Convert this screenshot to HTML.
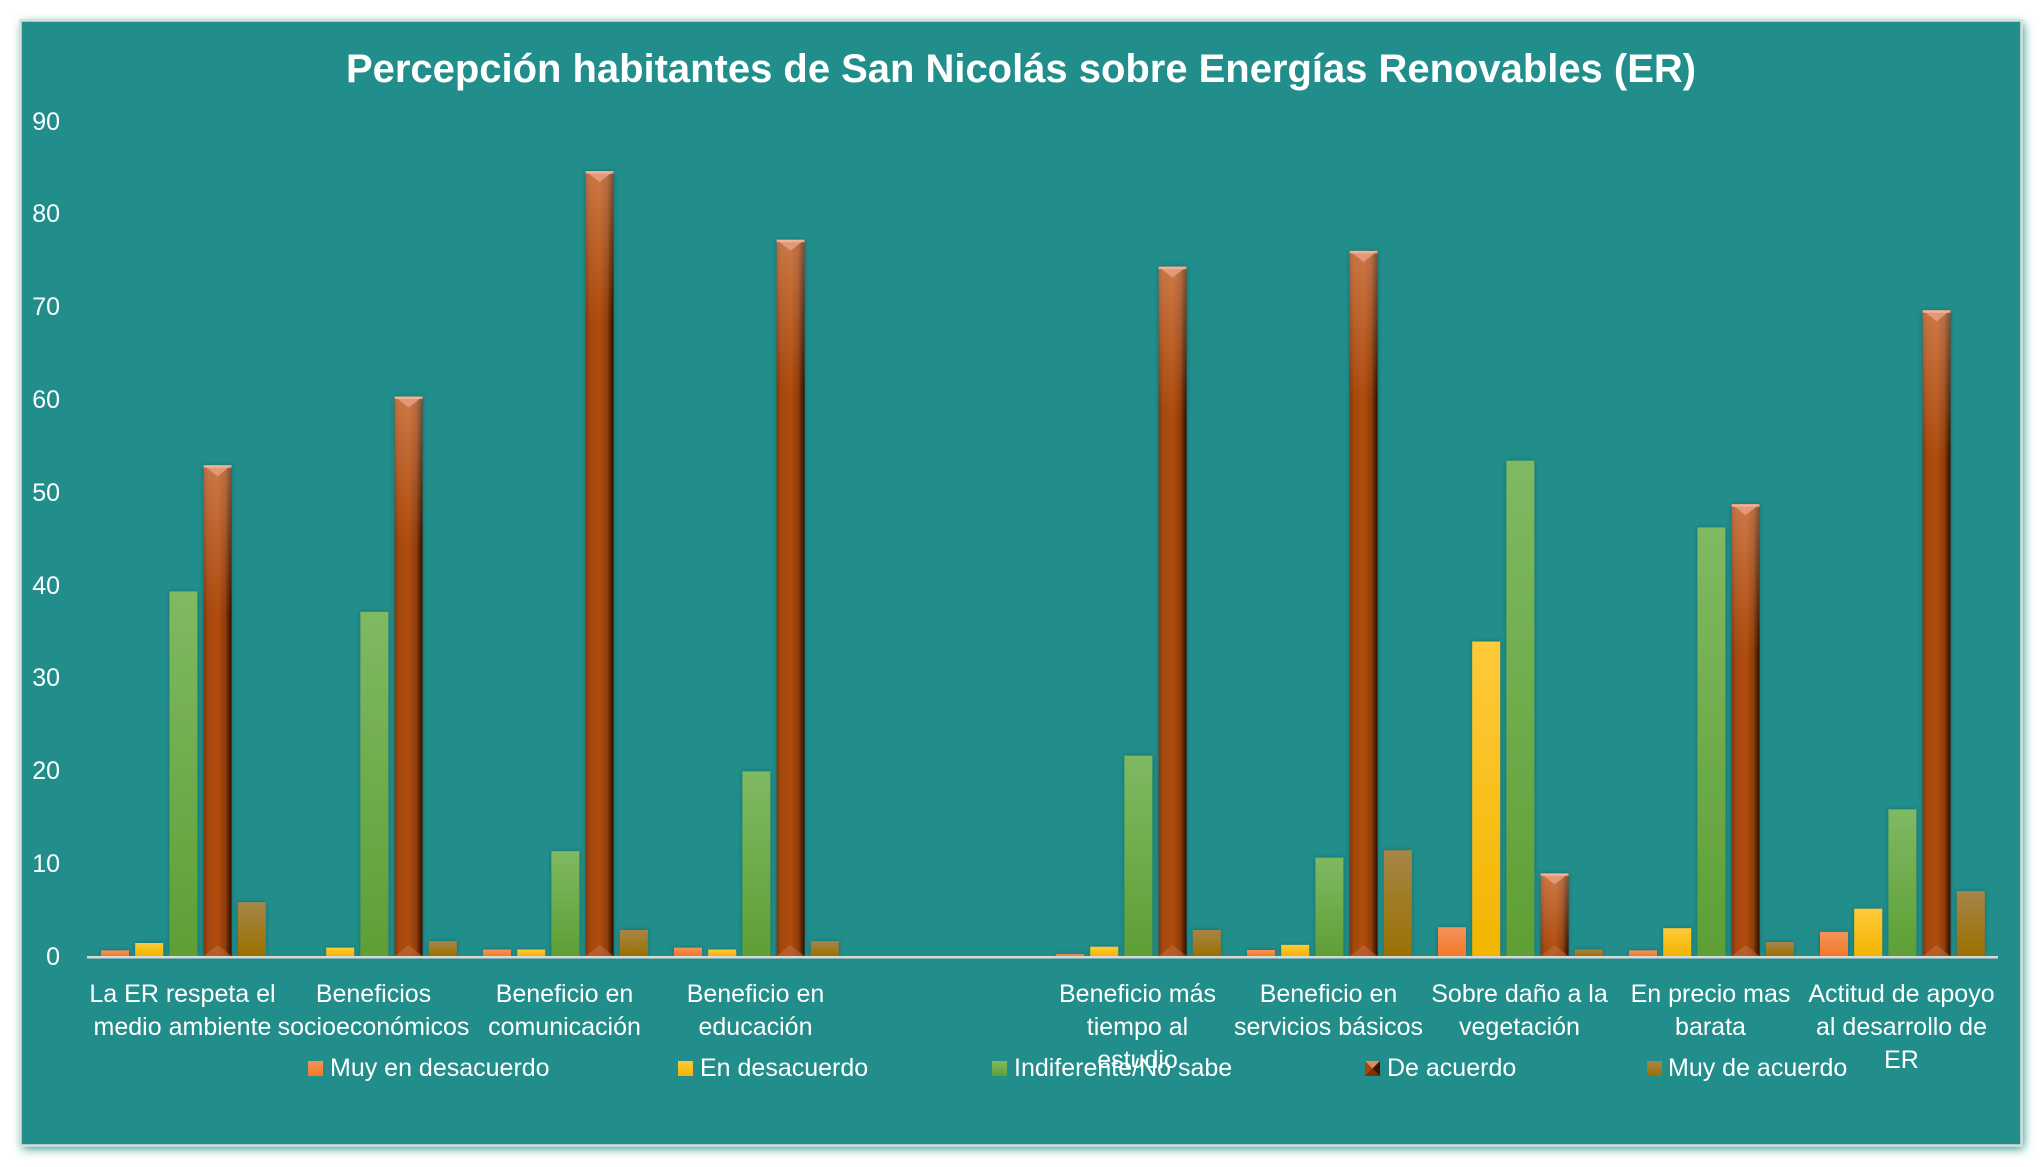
<!DOCTYPE html>
<html>
<head>
<meta charset="utf-8">
<style>
html,body{margin:0;padding:0;background:#ffffff;}
svg{display:block;}
text{font-family:"Liberation Sans",sans-serif;fill:#ffffff;}
</style>
</head>
<body>
<svg width="2042" height="1167" viewBox="0 0 2042 1167" xmlns="http://www.w3.org/2000/svg">
<defs>
  <filter id="fsh" x="-5%" y="-5%" width="110%" height="110%">
    <feDropShadow dx="2" dy="3" stdDeviation="5" flood-color="#1f8a88" flood-opacity="0.95"/>
  </filter>
  <filter id="bsh" x="-40%" y="-5%" width="180%" height="110%">
    <feDropShadow dx="0" dy="0" stdDeviation="2" flood-color="#083836" flood-opacity="0.45"/>
  </filter>
  <linearGradient id="gOr" x1="0" y1="0" x2="0" y2="1">
    <stop offset="0" stop-color="#f5935c"/><stop offset="1" stop-color="#f07a28"/>
  </linearGradient>
  <linearGradient id="gYe" x1="0" y1="0" x2="0" y2="1">
    <stop offset="0" stop-color="#ffca3a"/><stop offset="1" stop-color="#f2b500"/>
  </linearGradient>
  <linearGradient id="gGr" x1="0" y1="0" x2="0" y2="1">
    <stop offset="0" stop-color="#7fb962"/><stop offset="1" stop-color="#5e9f35"/>
  </linearGradient>
  <linearGradient id="gGo" x1="0" y1="0" x2="0" y2="1">
    <stop offset="0" stop-color="#a68648"/><stop offset="1" stop-color="#9a7000"/>
  </linearGradient>
  <linearGradient id="gBr" x1="0" y1="0" x2="1" y2="0">
    <stop offset="0" stop-color="#7e3608"/>
    <stop offset="0.15" stop-color="#a4470a"/>
    <stop offset="0.5" stop-color="#b04d0c"/>
    <stop offset="0.78" stop-color="#8e3c07"/>
    <stop offset="1" stop-color="#2a0f02"/>
  </linearGradient>
  <linearGradient id="gBrTop" x1="0" y1="0" x2="0" y2="1">
    <stop offset="0" stop-color="#ffc0a0" stop-opacity="0.38"/>
    <stop offset="1" stop-color="#ffc0a0" stop-opacity="0"/>
  </linearGradient>
</defs>

<!-- frame -->
<rect x="20.5" y="20.5" width="2001" height="1125" fill="#218e8c" filter="url(#fsh)"/>
<rect x="20.5" y="20.5" width="2001" height="1125" fill="#218e8c" stroke="#dcdcdc" stroke-width="2.5"/>

<!-- title -->
<text x="1021" y="82" font-size="40" font-weight="bold" text-anchor="middle" textLength="1350" lengthAdjust="spacingAndGlyphs">Percepción habitantes de San Nicolás sobre Energías Renovables (ER)</text>

<!-- y axis labels -->
<g font-size="25" text-anchor="end">
  <text x="60" y="965">0</text>
  <text x="60" y="872">10</text>
  <text x="60" y="779">20</text>
  <text x="60" y="686">30</text>
  <text x="60" y="594">40</text>
  <text x="60" y="501">50</text>
  <text x="60" y="408">60</text>
  <text x="60" y="315">70</text>
  <text x="60" y="222">80</text>
  <text x="60" y="130">90</text>
</g>

<!-- bars -->
<g filter="url(#bsh)">
  <!-- orange -->
  <g fill="url(#gOr)">
    <rect x="101" y="950.4" width="28" height="5.6"/>
    <rect x="483" y="949.5" width="28" height="6.5"/>
    <rect x="674" y="947.6" width="28" height="8.4"/>
    <rect x="1056" y="954.1" width="28" height="1.9"/>
    <rect x="1247" y="950" width="28" height="6"/>
    <rect x="1438" y="927.2" width="28" height="28.8"/>
    <rect x="1629" y="950.4" width="28" height="5.6"/>
    <rect x="1820" y="931.9" width="28" height="24.1"/>
  </g>
  <!-- yellow -->
  <g fill="url(#gYe)">
    <rect x="135.2" y="943" width="28" height="13"/>
    <rect x="326.2" y="947.6" width="28" height="8.4"/>
    <rect x="517.2" y="949.5" width="28" height="6.5"/>
    <rect x="708.2" y="949.5" width="28" height="6.5"/>
    <rect x="1090.2" y="946.7" width="28" height="9.3"/>
    <rect x="1281.2" y="944.9" width="28" height="11.1"/>
    <rect x="1472.2" y="641.5" width="28" height="314.5"/>
    <rect x="1663.2" y="928.2" width="28" height="27.8"/>
    <rect x="1854.2" y="908.7" width="28" height="47.3"/>
  </g>
  <!-- green -->
  <g fill="url(#gGr)">
    <rect x="169.4" y="591.4" width="28" height="364.6"/>
    <rect x="360.4" y="611.8" width="28" height="344.2"/>
    <rect x="551.4" y="851.2" width="28" height="104.8"/>
    <rect x="742.4" y="771.4" width="28" height="184.6"/>
    <rect x="1124.4" y="755.6" width="28" height="200.4"/>
    <rect x="1315.4" y="857.7" width="28" height="98.3"/>
    <rect x="1506.4" y="460.6" width="28" height="495.4"/>
    <rect x="1697.4" y="527.4" width="28" height="428.6"/>
    <rect x="1888.4" y="809.4" width="28" height="146.6"/>
  </g>
  <!-- gold -->
  <g fill="url(#gGo)">
    <rect x="237.8" y="902.2" width="28" height="53.8"/>
    <rect x="428.8" y="941.2" width="28" height="14.8"/>
    <rect x="619.8" y="930" width="28" height="26"/>
    <rect x="810.8" y="941.2" width="28" height="14.8"/>
    <rect x="1192.8" y="930" width="28" height="26"/>
    <rect x="1383.8" y="850.2" width="28" height="105.8"/>
    <rect x="1574.8" y="949.5" width="28" height="6.5"/>
    <rect x="1765.8" y="942.1" width="28" height="13.9"/>
    <rect x="1956.8" y="891.1" width="28" height="64.9"/>
  </g>
  <!-- brown base -->
  <g fill="url(#gBr)">
    <rect x="203.6" y="465.2" width="28" height="490.8"/>
    <rect x="394.6" y="396.5" width="28" height="559.5"/>
    <rect x="585.6" y="171.1" width="28" height="784.9"/>
    <rect x="776.6" y="239.7" width="28" height="716.3"/>
    <rect x="1158.6" y="266.6" width="28" height="689.4"/>
    <rect x="1349.6" y="250.9" width="28" height="705.1"/>
    <rect x="1540.6" y="873.4" width="28" height="82.6"/>
    <rect x="1731.6" y="504.2" width="28" height="451.8"/>
    <rect x="1922.6" y="310.3" width="28" height="645.7"/>
  </g>
</g>

<!-- brown top lightening -->
<g fill="url(#gBrTop)">
  <rect x="203.6" y="465.2" width="28" height="150"/>
  <rect x="394.6" y="396.5" width="28" height="150"/>
  <rect x="585.6" y="171.1" width="28" height="150"/>
  <rect x="776.6" y="239.7" width="28" height="150"/>
  <rect x="1158.6" y="266.6" width="28" height="150"/>
  <rect x="1349.6" y="250.9" width="28" height="150"/>
  <rect x="1540.6" y="873.4" width="28" height="82.6"/>
  <rect x="1731.6" y="504.2" width="28" height="150"/>
  <rect x="1922.6" y="310.3" width="28" height="150"/>
</g>

<!-- brown top caps -->
<g>
  <g fill="#e8a080" opacity="0.85">
    <polygon points="203.6,465.2 231.6,465.2 217.6,476.2"/>
    <polygon points="394.6,396.5 422.6,396.5 408.6,407.5"/>
    <polygon points="585.6,171.1 613.6,171.1 599.6,182.1"/>
    <polygon points="776.6,239.7 804.6,239.7 790.6,250.7"/>
    <polygon points="1158.6,266.6 1186.6,266.6 1172.6,277.6"/>
    <polygon points="1349.6,250.9 1377.6,250.9 1363.6,261.9"/>
    <polygon points="1540.6,873.4 1568.6,873.4 1554.6,884.4"/>
    <polygon points="1731.6,504.2 1759.6,504.2 1745.6,515.2"/>
    <polygon points="1922.6,310.3 1950.6,310.3 1936.6,321.3"/>
  </g>
  <g fill="#f4b89c" opacity="0.8">
    <rect x="203.6" y="465.2" width="28" height="2.5"/>
    <rect x="394.6" y="396.5" width="28" height="2.5"/>
    <rect x="585.6" y="171.1" width="28" height="2.5"/>
    <rect x="776.6" y="239.7" width="28" height="2.5"/>
    <rect x="1158.6" y="266.6" width="28" height="2.5"/>
    <rect x="1349.6" y="250.9" width="28" height="2.5"/>
    <rect x="1540.6" y="873.4" width="28" height="2.5"/>
    <rect x="1731.6" y="504.2" width="28" height="2.5"/>
    <rect x="1922.6" y="310.3" width="28" height="2.5"/>
  </g>
  <!-- bottom caps -->
  <g fill="#c8764a" opacity="0.45">
    <polygon points="203.6,956 231.6,956 217.6,945"/>
    <polygon points="394.6,956 422.6,956 408.6,945"/>
    <polygon points="585.6,956 613.6,956 599.6,945"/>
    <polygon points="776.6,956 804.6,956 790.6,945"/>
    <polygon points="1158.6,956 1186.6,956 1172.6,945"/>
    <polygon points="1349.6,956 1377.6,956 1363.6,945"/>
    <polygon points="1540.6,956 1568.6,956 1554.6,945"/>
    <polygon points="1731.6,956 1759.6,956 1745.6,945"/>
    <polygon points="1922.6,956 1950.6,956 1936.6,945"/>
  </g>
</g>

<!-- x axis line -->
<rect x="87" y="956" width="1911" height="2.5" fill="#d9d9d9"/>

<!-- category labels -->
<g font-size="25" text-anchor="middle">
  <text x="182.5" y="1002">La ER respeta el</text>
  <text x="182.5" y="1035">medio ambiente</text>
  <text x="373.5" y="1002">Beneficios</text>
  <text x="373.5" y="1035">socioeconómicos</text>
  <text x="564.5" y="1002">Beneficio en</text>
  <text x="564.5" y="1035">comunicación</text>
  <text x="755.5" y="1002">Beneficio en</text>
  <text x="755.5" y="1035">educación</text>
  <text x="1137.5" y="1002">Beneficio más</text>
  <text x="1137.5" y="1035">tiempo al</text>
  <text x="1137.5" y="1068">estudio</text>
  <text x="1328.5" y="1002">Beneficio en</text>
  <text x="1328.5" y="1035">servicios básicos</text>
  <text x="1519.5" y="1002">Sobre daño a la</text>
  <text x="1519.5" y="1035">vegetación</text>
  <text x="1710.5" y="1002">En precio mas</text>
  <text x="1710.5" y="1035">barata</text>
  <text x="1901.5" y="1002">Actitud de apoyo</text>
  <text x="1901.5" y="1035">al desarrollo de</text>
  <text x="1901.5" y="1068">ER</text>
</g>

<!-- legend -->
<g>
  <rect x="308" y="1061" width="15" height="15" fill="url(#gOr)"/>
  <rect x="678" y="1061" width="15" height="15" fill="url(#gYe)"/>
  <rect x="992" y="1061" width="15" height="15" fill="url(#gGr)"/>
  <rect x="1365" y="1061" width="15" height="15" fill="#a4470a"/>
  <polygon points="1365,1061 1380,1061 1372.5,1068.5" fill="#e39a78" opacity="0.85"/>
  <polygon points="1380,1061 1380,1076 1372.5,1068.5" fill="#3a1604"/>
  <polygon points="1365,1076 1380,1076 1372.5,1068.5" fill="#7a3206"/>
  <rect x="1647" y="1061" width="15" height="15" fill="url(#gGo)"/>
</g>
<g font-size="25">
  <text x="330" y="1076">Muy en desacuerdo</text>
  <text x="700" y="1076">En desacuerdo</text>
  <text x="1014" y="1076">Indiferente/No sabe</text>
  <text x="1387" y="1076">De acuerdo</text>
  <text x="1668" y="1076">Muy de acuerdo</text>
</g>
</svg>
</body>
</html>
